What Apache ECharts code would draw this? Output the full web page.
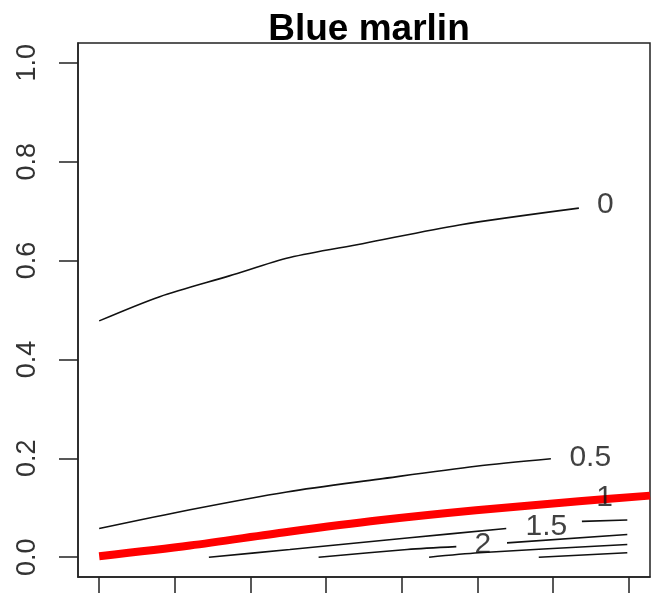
<!DOCTYPE html>
<html>
<head>
<meta charset="utf-8">
<script src="https://cdn.jsdelivr.net/npm/echarts@6/dist/echarts.min.js"></script>
<style>
  html, body { margin: 0; padding: 0; background: #fff; }
  #chart { width: 651px; height: 593px; }
</style>
</head>
<body>
<div id="chart"></div>
<script>
// Axis ticks
const xTicks = [0, 1, 2, 3, 4, 5, 6, 7];
const yTicks = [0, 0.2, 0.4, 0.6, 0.8, 1.0];

// Contour lines (null marks the gap left for a label)
const level0 = [[0, 0.478], [0.80, 0.527], [1.72, 0.569], [2.52, 0.606], [3.48, 0.634], [4.76, 0.672], [6.34, 0.706]];
const level05 = [[0, 0.058], [1.20, 0.096], [2.48, 0.132], [3.70, 0.158], [4.98, 0.184], [5.97, 0.199]];
const level15 = [[1.45, 0], [2.52, 0.0156], [4.07, 0.039], [5.38, 0.058], null, [6.38, 0.0725], [6.98, 0.0752]];
const level2 = [[2.90, 0], [4.07, 0.0156], [4.72, 0.0214], null, [5.39, 0.029], [6.98, 0.0458]];
const level25 = [[4.36, 0], [5.02, 0.0089], [6.98, 0.0257]];
const level3 = [[5.81, 0], [6.98, 0.0089]];

// Highlighted threshold curve
const threshold = [[0, 0.002], [1.20, 0.0236], [2.48, 0.051], [3.70, 0.0747], [4.98, 0.095], [6.34, 0.113], [7.28, 0.1246]];

// Contour labels: [x, y, text]
const contourLabels = [
  [6.69, 0.713, '0'],
  [6.49, 0.202, '0.5'],
  [6.68, 0.121, '1'],
  [5.91, 0.061, '1.5'],
  [5.07, 0.026, '2']
];

const chart = echarts.init(document.getElementById('chart'), null, { renderer: 'canvas' });

const contourStyle = { color: '#111', width: 1.6 };
function contour(data) {
  return {
    type: 'line', data: data, showSymbol: false, symbol: 'none', smooth: 0.3,
    connectNulls: false, lineStyle: contourStyle, silent: true, z: 3, animation: false
  };
}

chart.setOption({
  animation: false,
  title: {
    text: 'Blue marlin',
    left: 364, top: 6, textAlign: 'center',
    textStyle: { fontFamily: 'Liberation Sans', fontWeight: 'bold', fontSize: 37, color: '#000' }
  },
  grid: {
    left: 78, top: 43, right: 1, bottom: 16,
    show: true, borderColor: '#222', borderWidth: 1.5, backgroundColor: 'transparent'
  },
  xAxis: {
    type: 'value', min: -0.28, max: 7.28,
    splitLine: { show: false },
    axisLine: { show: true, onZero: false, lineStyle: { color: '#222', width: 1.5 } },
    axisTick: { show: true, length: 18, customValues: xTicks, lineStyle: { color: '#222', width: 1.5 } },
    axisLabel: { show: false }
  },
  yAxis: {
    type: 'value', min: -0.04, max: 1.04,
    splitLine: { show: false },
    axisLine: { show: true, onZero: false, lineStyle: { color: '#222', width: 1.5 } },
    axisTick: { show: true, length: 19, customValues: yTicks, lineStyle: { color: '#222', width: 1.5 } },
    axisLabel: {
      show: true, customValues: yTicks, rotate: 90, margin: 37,
      formatter: v => v.toFixed(1),
      fontFamily: 'Liberation Sans', fontSize: 27, color: '#333'
    }
  },
  series: [
    {
      type: 'line', data: threshold, showSymbol: false, symbol: 'none', smooth: 0.3,
      lineStyle: { color: '#ff0000', width: 8 }, z: 2, silent: true
    },
    contour(level0),
    contour(level05),
    contour(level15),
    contour(level2),
    contour(level25),
    contour(level3),
    {
      type: 'scatter', symbolSize: 0, z: 5, silent: true,
      data: contourLabels.map(d => ({ value: [d[0], d[1]], name: d[2] })),
      label: {
        show: true, position: 'inside', formatter: p => p.name,
        fontFamily: 'Liberation Sans', fontSize: 30, color: '#111'
      }
    }
  ]
});
</script>
</body>
</html>
